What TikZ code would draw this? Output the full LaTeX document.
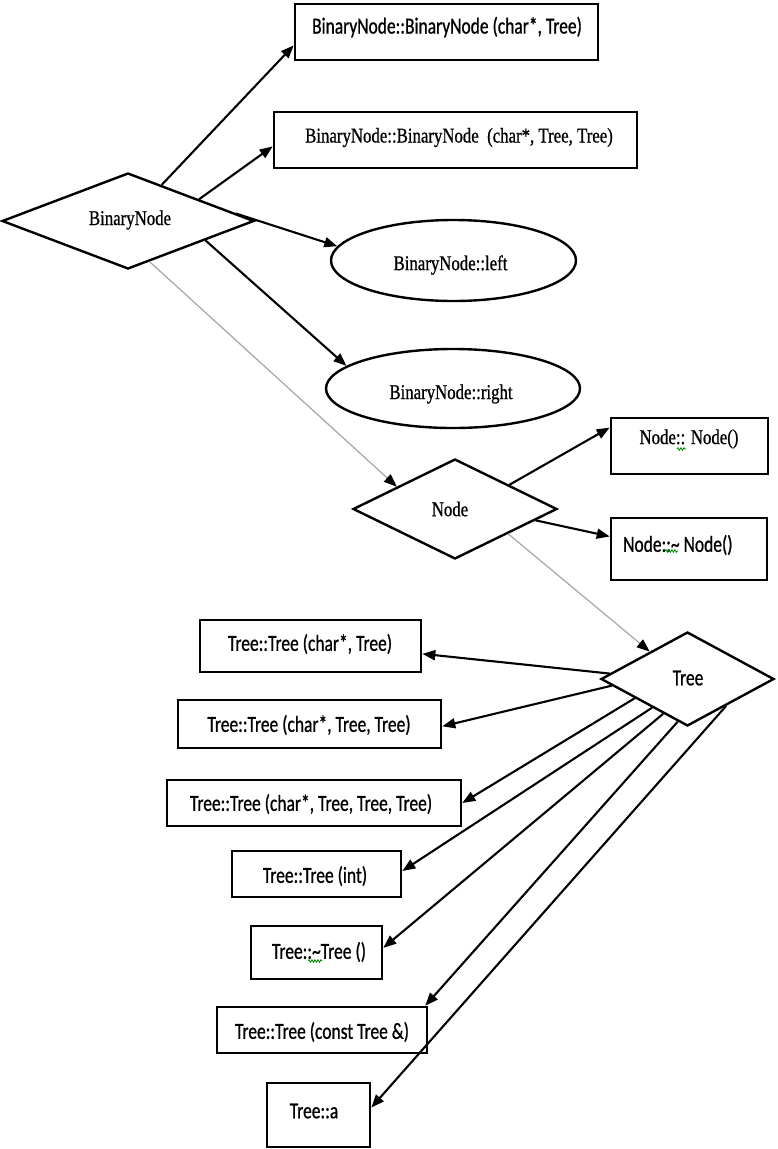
\documentclass[tikz,border=0pt]{standalone}
\usepackage{fontspec}
\setmainfont[FakeStretch=0.8,FakeBold=0.8]{Liberation Serif}
\newfontfamily\calfont[FakeStretch=0.76,FakeBold=0.8]{Carlito}
\usetikzlibrary{shapes.geometric,arrows.meta,decorations.pathmorphing,calc}
\begin{document}
\begin{tikzpicture}[x=1pt,y=-1pt,
  box/.style={draw, line width=2.6pt, rectangle, inner sep=0pt},
  dia/.style={draw, line width=2.4pt, diamond, inner sep=0pt},
  ell/.style={draw, line width=2.4pt, ellipse, inner sep=0pt},
  serif/.style={font=\fontsize{21}{24}\selectfont, inner sep=0pt},
  sans/.style={font=\calfont\fontsize{23}{26}\selectfont, inner sep=0pt},
  conn/.style={line width=2.1pt, -{Triangle[length=13pt,width=10pt]}},
  weak/.style={line width=1.2pt, draw=gray!70, -{Triangle[length=13pt,width=10pt,color=black]}},
  squig/.style={draw=green!55!black, line width=0.8pt, decorate, decoration={snake, amplitude=1.3pt, segment length=3pt}}
]
\useasboundingbox (0,0) rectangle (777,1149);
\fill[white] (0,0) rectangle (777,1149);

% top boxes
\node[box, minimum width=303pt, minimum height=56pt] (b1) at (446.5,32) {};
\node[sans] (b1t) at (447,27) {BinaryNode::BinaryNode (char*, Tree)};
\node[box, minimum width=363pt, minimum height=56pt] (b2) at (455.5,140) {};
\node[serif] (b2t) at (459,137.5) {BinaryNode::BinaryNode\ \ (char*, Tree, Tree)};

% BinaryNode diamond
\node[dia, minimum width=252pt, minimum height=96pt] (bn) at (128,221) {};
\node[serif] (bnt) at (130,220) {BinaryNode};

% ellipses
\node[ell, minimum width=245pt, minimum height=81pt] (el) at (453.5,260.5) {};
\node[serif] (elt) at (450.5,265) {BinaryNode::left};
\node[ell, minimum width=254pt, minimum height=79pt] (er) at (453,388.5) {};
\node[serif] (ert) at (451,394) {BinaryNode::right};

% Node
\node[dia, minimum width=204pt, minimum height=100pt] (nd) at (455,509) {};
\node[serif] (ndt) at (450,509) {Node};
\node[box, minimum width=157pt, minimum height=56pt] (n1) at (689.5,446) {};
\node[serif] (n1t) at (689,439) {Node:: Node()};
\node[box, minimum width=156pt, minimum height=62pt] (n2) at (689,549) {};
\node[sans, anchor=west] (n2t) at (623,545) {Node::\textasciitilde{} Node()};

% Tree
\node[dia, minimum width=173pt, minimum height=94pt] (tr) at (687.5,679) {};
\node[sans] (trt) at (688,678) {Tree};

\node[box, minimum width=221pt, minimum height=52pt] (t1) at (310.5,646) {};
\node[sans] (t1t) at (310,644) {Tree::Tree (char*, Tree)};
\node[box, minimum width=263pt, minimum height=48pt] (t2) at (309.5,724) {};
\node[sans] (t2t) at (309,725) {Tree::Tree (char*, Tree, Tree)};
\node[box, minimum width=294pt, minimum height=46pt] (t3) at (314,803) {};
\node[sans] (t3t) at (311,804) {Tree::Tree (char*, Tree, Tree, Tree)};
\node[box, minimum width=169pt, minimum height=46pt] (t4) at (316.5,874) {};
\node[sans] (t4t) at (315,876) {Tree::Tree (int)};
\node[box, minimum width=131pt, minimum height=53pt] (t5) at (316.5,952.5) {};
\node[sans] (t5t) at (319,952) {Tree::\textasciitilde Tree ()};
\node[box, minimum width=210pt, minimum height=46pt] (t6) at (322,1030) {};
\node[sans] (t6t) at (322,1032) {Tree::Tree (const Tree \&)};
\node[box, minimum width=103pt, minimum height=64pt] (t7) at (318.5,1115) {};
\node[sans] (t7t) at (314,1111) {Tree::a};

% connectors
\draw[conn] (bn.47) -- (b1.185.3);
\draw[conn] (bn.17.9) -- (b2.182.9);
\draw[conn] (bn.4.3) -- (el.173.3);
\draw[conn] (bn.346) -- (er.168.2);
\draw[weak] (bn.298.6) -- (nd.159.1);
\draw[conn] (nd.24.4) -- (n1.167.9);
\draw[conn] (nd.352.9) -- (n2.171.2);
\draw[weak] (nd.335.6) -- (tr.144.3);
\draw[conn] (tr.176) -- (t1.356.9);
\draw[conn] (tr.185.4) -- (t2.359.6);
\draw[conn] (tr.200.9) -- (t3.0);
\draw[conn] (tr.219.4) -- (t4.2.7);
\draw[conn] (tr.235.2) -- (t5.4.8);
\draw[conn] (tr.257.2) -- ($(t6.north east)+(-3,0)$);
\draw[conn] (tr.325) -- (t7.8.8);

% spelling squiggles
\draw[squig] (677,449) -- (686,449);
\draw[squig] (665,551) -- (678,551);
\draw[squig] (308,961) -- (322,961);
\end{tikzpicture}
\end{document}
